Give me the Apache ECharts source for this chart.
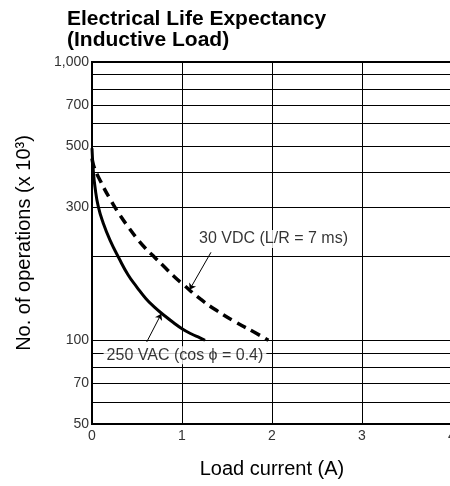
<!DOCTYPE html>
<html><head><meta charset="utf-8">
<script src="https://cdn.jsdelivr.net/npm/echarts@6/dist/echarts.min.js"></script>
<style>html,body{margin:0;padding:0;background:#fff}#c{width:450px;height:486px}</style>
</head><body><div id="c"></div>
<script>
const titleText = 'Electrical Life Expectancy\n(Inductive Load)';
const xName = 'Load current (A)';
const yName = 'No. of operations (x 10³)';
const xTicks = [0, 1, 2, 3, 4];
const yLabelValues = [50, 70, 100, 300, 500, 700, 1000];
const yGridValues = [50, 60, 70, 80, 90, 100, 200, 300, 400, 500, 600, 700, 800, 900, 1000];

const currentVAC = [0, 0.014, 0.033, 0.07, 0.126, 0.2, 0.3, 0.4, 0.5, 0.6, 0.7, 0.8, 0.9, 1.0, 1.1, 1.2, 1.256];
const opsVAC     = [490, 409, 356, 302, 263, 229, 197, 172, 155, 141, 131, 123, 116, 110, 105.5, 102, 100];

const currentVDC = [0, 0.022, 0.1, 0.2, 0.3, 0.4, 0.5, 0.6, 0.7, 0.8, 0.9, 1.0, 1.2, 1.4, 1.6, 1.8, 1.96];
const opsVDC     = [450, 420, 370, 322, 285, 256, 232, 213, 198, 184, 171, 160, 141, 127, 116, 107, 100];

const labelNames = ['30 VDC (L/R = 7 ms)', '250 VAC (cos ϕ = 0.4)'];
const labelX = [2.017, 1.033];
const labelY = [231, 88.3];
const leaderVDC = [[1.322, 207], [1.085, 152]];
const leaderVAC = [[0.608, 98.6], [0.77, 124.5]];

const zip = (a, b) => a.map((v, i) => [v, b[i]]);
const FONT = 'Liberation Sans, Arial, Helvetica, sans-serif';

const chart = echarts.init(document.getElementById('c'));
chart.setOption({
  animation: false,
  backgroundColor: '#fff',
  title: {
    text: titleText, left: 62, top: 4,
    textStyle: { fontFamily: FONT, fontWeight: 'bold', fontSize: 21, lineHeight: 21, color: '#000' }
  },
  grid: { left: 92, right: -2, top: 62, bottom: 62, outerBoundsMode: 'none', containLabel: false,
    show: true, borderColor: '#000', borderWidth: 2 },
  xAxis: {
    type: 'value', min: 0, max: 4, interval: 1,
    name: xName, nameLocation: 'middle', nameGap: 35,
    nameTextStyle: { fontFamily: FONT, fontSize: 20, color: '#000' },
    axisLine: { show: true, lineStyle: { color: '#000', width: 2 } },
    axisTick: { show: false },
    axisLabel: { fontFamily: FONT, fontSize: 14, color: '#333', margin: 5, showMaxLabel: true, showMinLabel: true,
      formatter: v => xTicks.includes(v) ? String(v) : '' },
    splitLine: { show: true, lineStyle: { color: '#000', width: 1 } }
  },
  yAxis: {
    type: 'log', logBase: 10, min: 50, max: 1000,
    name: yName, nameLocation: 'middle', nameGap: 58, nameRotate: 90,
    nameTextStyle: { fontFamily: FONT, fontSize: 20, color: '#000' },
    axisLine: { show: true, lineStyle: { color: '#000', width: 2 } },
    axisTick: { show: false, customValues: yGridValues },
    axisLabel: { customValues: yLabelValues, fontFamily: FONT, fontSize: 14, color: '#333', margin: 3,
      formatter: v => v >= 1000 ? '1,000' : String(v) },
    splitLine: { show: true, lineStyle: { color: '#000', width: 1 } }
  },
  series: [
    {
      type: 'line', data: zip(currentVAC, opsVAC), showSymbol: false, smooth: 0.5, z: 5,
      lineStyle: { color: '#000', width: 3 }
    },
    {
      type: 'line', data: zip(currentVDC, opsVDC), showSymbol: false, smooth: 0.5, z: 5,
      lineStyle: { color: '#000', width: 3.5, type: [10, 6] }
    },
    {
      type: 'scatter', symbolSize: 0, z: 10,
      data: labelNames.map((n, i) => ({ name: n, value: [labelX[i], labelY[i]] })),
      label: { show: true, position: 'inside', formatter: p => p.name,
        fontFamily: FONT, fontSize: 16, color: '#000', backgroundColor: '#fff', padding: [1, 3] },
      markLine: {
        silent: true, symbol: ['none', 'arrow'], symbolSize: 6,
        lineStyle: { color: '#000', width: 1, type: 'solid' },
        label: { show: false },
        data: [
          [{ coord: leaderVDC[0] }, { coord: leaderVDC[1] }],
          [{ coord: leaderVAC[0] }, { coord: leaderVAC[1] }]
        ]
      }
    }
  ]
});
</script></body></html>
